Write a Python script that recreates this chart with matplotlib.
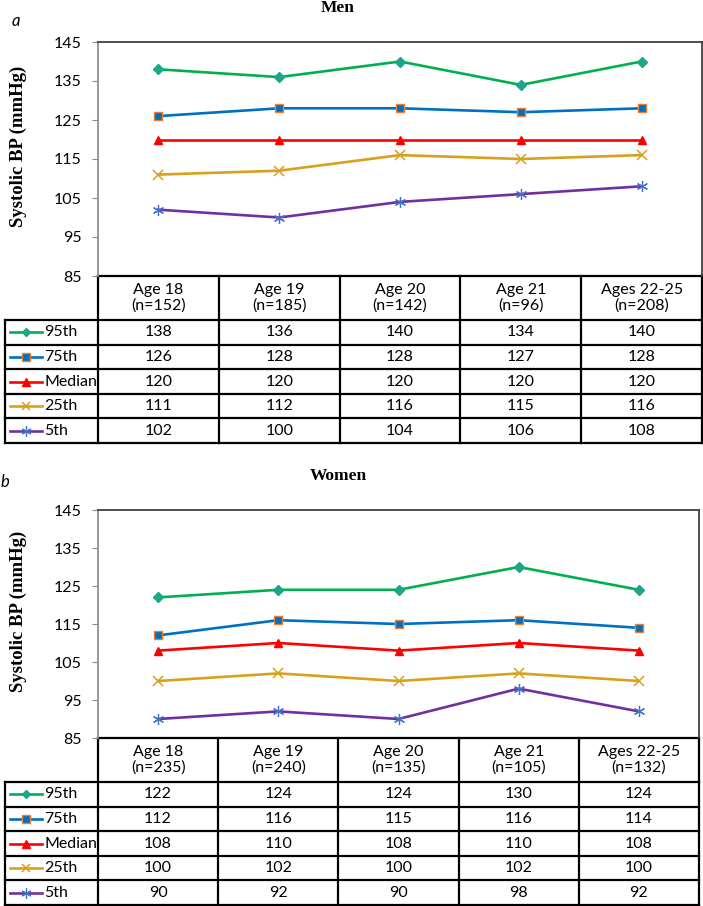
import matplotlib
matplotlib.use("Agg")
import matplotlib.pyplot as plt
from matplotlib.lines import Line2D

# ---------------- data ----------------
categories = ["Age 18", "Age 19", "Age 20", "Age 21", "Ages 22-25"]
men_n = [152, 185, 142, 96, 208]
women_n = [235, 240, 135, 105, 132]
series_names = ["95th", "75th", "Median", "25th", "5th"]

men_p95 = [138, 136, 140, 134, 140]
men_p75 = [126, 128, 128, 127, 128]
men_med = [120, 120, 120, 120, 120]
men_p25 = [111, 112, 116, 115, 116]
men_p5 = [102, 100, 104, 106, 108]

women_p95 = [122, 124, 124, 130, 124]
women_p75 = [112, 116, 115, 116, 114]
women_med = [108, 110, 108, 110, 108]
women_p25 = [100, 102, 100, 102, 100]
women_p5 = [90, 92, 90, 98, 92]

y_ticks = [85, 95, 105, 115, 125, 135, 145]

# ---------------- styles ----------------
styles = [
    dict(color="#00B050", marker="D", mfc="#1DA58A", mec="#1DA58A", ms=5),
    dict(color="#0070C0", marker="s", mfc="#0070C0", mec="#ED7D31", ms=6, mew=1.0),
    dict(color="#FF0000", marker="^", mfc="#FF0000", mec="#FF0000", ms=6),
    dict(color="#D9A01E", marker="x", mfc="#D9A01E", mec="#D9A01E", ms=6.5, mew=1.1),
    dict(color="#7030A0", marker=(6, 2, 0), mfc="#4472C4", mec="#4472C4", ms=8, mew=0.9),
]

W, H = 703, 906
fig = plt.figure(figsize=(W / 100, H / 100), dpi=100)
fig.patch.set_facecolor("white")

ov = fig.add_axes([0, 0, 1, 1], zorder=0)
ov.set_xlim(0, W)
ov.set_ylim(H, 0)
ov.axis("off")

SANS = ["Lato", "DejaVu Sans"]
SERIF = ["Liberation Serif", "DejaVu Serif"]
FS = 11.5


def panel(values, ns, title, letter, top, bottom, right, title_y, letter_xy):
    left = 98
    lab_left = 5
    ax = fig.add_axes([left / W, 1 - bottom / H, (right - left) / W, (bottom - top) / H], zorder=2)
    ax.set_facecolor("none")
    x = list(range(len(categories)))
    for vals, st in zip(values, styles):
        ax.plot(x, vals, lw=1.9, **st)
    ax.set_xlim(-0.5, len(categories) - 0.5)
    ax.set_ylim(y_ticks[0], y_ticks[-1])
    ax.set_yticks(y_ticks)
    ax.set_yticklabels([str(t) for t in y_ticks], fontfamily=SANS, fontsize=FS)
    ax.set_xticks([])
    ax.tick_params(axis="y", direction="out", length=4, color="#888888", pad=8)
    ax.spines["bottom"].set_visible(False)
    ax.spines["top"].set_color("#404040")
    ax.spines["right"].set_color("#404040")
    ax.spines["left"].set_color("#909090")
    for s in ["top", "right", "left"]:
        ax.spines[s].set_linewidth(1.3)

    # axis label
    ov.text(18, (top + bottom) / 2 - 13, "Systolic BP (mmHg)", rotation=90, ha="center",
            va="center", fontfamily=SERIF, fontweight="bold", fontsize=13.5)

    # titles
    ov.text(338, title_y, title, ha="center", va="center", fontfamily=SERIF,
            fontweight="bold", fontsize=12.5)
    ov.text(letter_xy[0], letter_xy[1], letter, ha="left", va="center", fontfamily=SANS,
            fontstyle="italic", fontsize=12)

    # table
    col_w = (right - left) / len(categories)
    cols = [left + i * col_w for i in range(len(categories) + 1)]
    head_top = bottom
    head_bot = bottom + 44
    row_h = 24.6
    rows = [head_bot + i * row_h for i in range(len(series_names) + 1)]
    lw = 1.6
    ov.plot([left, right], [head_top, head_top], color="black", lw=lw)
    for r in rows:
        ov.plot([lab_left, right], [r, r], color="black", lw=lw)
    for c in cols:
        ov.plot([c, c], [head_top, rows[-1]], color="black", lw=lw)
    ov.plot([lab_left, lab_left], [rows[0], rows[-1]], color="black", lw=lw)

    for i, (cat, n) in enumerate(zip(categories, ns)):
        cx = (cols[i] + cols[i + 1]) / 2
        ov.text(cx, (head_top + head_bot) / 2, f"{cat}\n(n={n})", ha="center", va="center",
                fontfamily=SANS, fontsize=FS, linespacing=1.15)
    for j, (name, vals, st) in enumerate(zip(series_names, values, styles)):
        cy = (rows[j] + rows[j + 1]) / 2
        st2 = dict(st)
        st2["ms"] = st["ms"] * 0.9
        ov.add_line(Line2D([10, 42], [cy, cy], lw=1.9, color=st["color"]))
        ov.plot([26], [cy], linestyle="none", **st2)
        ov.text(44, cy, name, ha="left", va="center", fontfamily=SANS, fontsize=FS)
        for i, v in enumerate(vals):
            cx = (cols[i] + cols[i + 1]) / 2
            ov.text(cx, cy, str(v), ha="center", va="center", fontfamily=SANS, fontsize=FS)


panel([men_p95, men_p75, men_med, men_p25, men_p5], men_n, "Men", "a",
      top=42, bottom=276, right=702, title_y=8, letter_xy=(12, 21))
panel([women_p95, women_p75, women_med, women_p25, women_p5], women_n, "Women", "b",
      top=510, bottom=738, right=699, title_y=476, letter_xy=(1, 482))

fig.savefig("out.png", dpi=100, facecolor="white")
